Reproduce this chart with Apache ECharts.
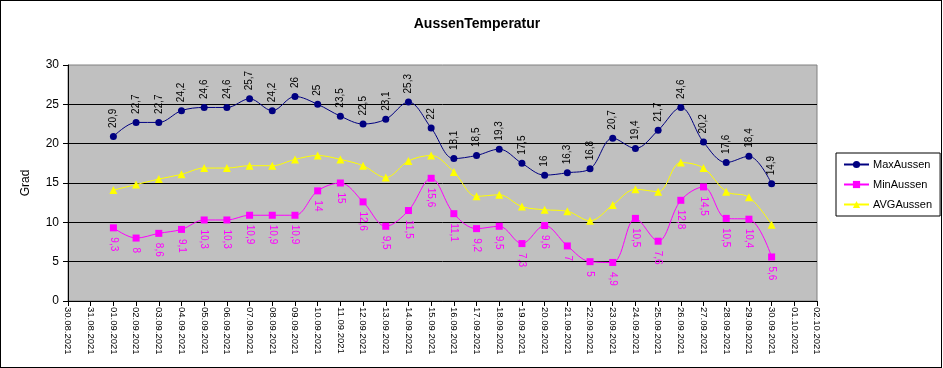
<!DOCTYPE html>
<html>
<head>
<meta charset="utf-8">
<script src="https://cdn.jsdelivr.net/npm/echarts@6/dist/echarts.min.js"></script>
<style>
html,body{margin:0;padding:0;background:#fff;}
#frame{position:absolute;left:0;top:0;width:942px;height:368px;box-sizing:border-box;border:1px solid #000;}
#chart{position:absolute;left:0;top:0;width:943px;height:368px;}
</style>
</head>
<body>
<div id="chart"></div>
<div id="frame"></div>
<script>
const categories = ['30.08.2021','31.08.2021','01.09.2021','02.09.2021','03.09.2021','04.09.2021','05.09.2021','06.09.2021','07.09.2021','08.09.2021','09.09.2021','10.09.2021','11.09.2021','12.09.2021','13.09.2021','14.09.2021','15.09.2021','16.09.2021','17.09.2021','18.09.2021','19.09.2021','20.09.2021','21.09.2021','22.09.2021','23.09.2021','24.09.2021','25.09.2021','26.09.2021','27.09.2021','28.09.2021','29.09.2021','30.09.2021','01.10.2021','02.10.2021'];
const maxAussen = [null,null,20.9,22.7,22.7,24.2,24.6,24.6,25.7,24.2,26,25,23.5,22.5,23.1,25.3,22,18.1,18.5,19.3,17.5,16,16.3,16.8,20.7,19.4,21.7,24.6,20.2,17.6,18.4,14.9,null,null];
const minAussen = [null,null,9.3,8,8.6,9.1,10.3,10.3,10.9,10.9,10.9,14,15,12.6,9.5,11.5,15.6,11.1,9.2,9.5,7.3,9.6,7,5,4.9,10.5,7.6,12.8,14.5,10.5,10.4,5.6,null,null];
const avgAussen = [null,null,14.1,14.8,15.5,16.1,16.9,16.9,17.2,17.2,18.0,18.5,18.0,17.2,15.7,17.8,18.5,16.4,13.3,13.5,12.0,11.6,11.4,10.2,12.2,14.2,13.9,17.6,16.9,13.9,13.2,9.7,null,null];
const yTicks = {min:0, max:30, interval:5};

const font = 'Arial, "Liberation Sans", sans-serif';
const fmt = p => String(p.value).replace('.', ',');

const chart = echarts.init(document.getElementById('chart'), null, {renderer:'canvas'});
chart.setOption({
  animation:false,
  backgroundColor:'#fff',
  textStyle:{fontFamily:font},
  title:{text:'AussenTemperatur', left:472, top:12, textAlign:'center',
    textStyle:{fontSize:14, fontWeight:'bold', color:'#000', fontFamily:font}},
  legend:{
    orient:'vertical', left:836, top:153, width:104,
    padding:[6,8,6,7], itemGap:9, itemWidth:25, itemHeight:9,
    borderColor:'#000', borderWidth:1, backgroundColor:'#fff',
    textStyle:{fontSize:11, color:'#000', fontFamily:font, padding:[0,0,0,-1]},
    data:['MaxAussen','MinAussen','AVGAussen']
  },
  grid:{left:68, right:126, top:65, bottom:67, show:true, backgroundColor:'#c0c0c0', borderColor:'#808080', borderWidth:1, containLabel:false},
  xAxis:{
    type:'category', data:categories, boundaryGap:false,
    axisLine:{lineStyle:{color:'#000', width:1}},
    axisTick:{show:true, length:5, interval:0, lineStyle:{color:'#000'}},
    axisLabel:{interval:0, rotate:-90, fontSize:9.5, color:'#000', margin:6, fontFamily:font},
    splitLine:{show:false}
  },
  yAxis:{
    type:'value', min:yTicks.min, max:yTicks.max, interval:yTicks.interval,
    name:'Grad', nameLocation:'middle', nameGap:36, nameRotate:90,
    nameTextStyle:{fontSize:12, color:'#000', fontFamily:font},
    axisLine:{show:true, lineStyle:{color:'#000'}},
    axisTick:{show:true, length:5, lineStyle:{color:'#000'}},
    axisLabel:{fontSize:12, color:'#000', margin:9, fontFamily:font},
    splitLine:{show:true, showMaxLine:false, lineStyle:{color:'#000', width:1}}
  },
  series:[
    {name:'MaxAussen', type:'line', data:maxAussen, smooth:0.35, symbol:'circle', symbolSize:7,
     itemStyle:{color:'#000080'}, lineStyle:{color:'#000080', width:1}, z:3,
     label:{show:true, position:'top', distance:5, rotate:90, align:'left', verticalAlign:'middle',
       fontSize:10, color:'#000', fontFamily:font, formatter:fmt}},
    {name:'MinAussen', type:'line', data:minAussen, smooth:0.35, symbol:'rect', symbolSize:7,
     itemStyle:{color:'#ff00ff'}, lineStyle:{color:'#ff00ff', width:1}, z:2,
     label:{show:true, position:'bottom', distance:6, rotate:-90, align:'left', verticalAlign:'middle',
       fontSize:10, color:'#ff00ff', fontFamily:font, formatter:fmt}},
    {name:'AVGAussen', type:'line', data:avgAussen, smooth:0.35, symbol:'triangle', symbolSize:8,
     itemStyle:{color:'#ffff00'}, lineStyle:{color:'#ffff00', width:1}, z:1}
  ]
});
</script>
</body>
</html>
